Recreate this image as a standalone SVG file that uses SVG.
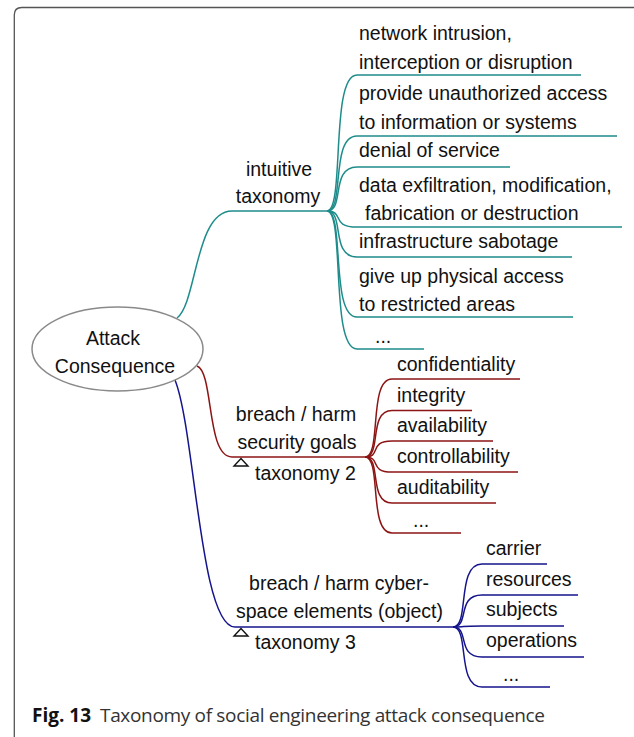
<svg xmlns="http://www.w3.org/2000/svg" width="634" height="737" viewBox="0 0 634 737">
<style>
  .t { font-family: "Liberation Sans", Arial, sans-serif; font-size: 19.5px; fill: #111; }
  .c { text-anchor: middle; }
  .teal { fill: none; stroke: #1f8c8c; stroke-width: 1.5; }
  .red { fill: none; stroke: #8c1414; stroke-width: 1.5; }
  .blue { fill: none; stroke: #14148c; stroke-width: 1.5; }
  .tri { fill: #fff; stroke: #111; stroke-width: 1.4; }
</style>
<rect width="634" height="737" fill="#fff"/>
<path d="M14.3,760 L14.3,15 Q14.3,7.5 21.8,7.5 L660,7.5" fill="none" stroke="#555" stroke-width="1.3"/>

<g id="connectors">
  <!-- root to level 1 -->
  <path class="teal" d="M177,318 C197,303 195,211 232,211 L327,211"/>
  <path class="red" d="M197,366 C214,372 206,457 232,457 L365,457"/>
  <path class="blue" d="M175,380 C195,430 200,627 235,627 L453,627"/>
  <!-- teal leaves -->
  <path class="teal" d="M327,211 C345,211 330,75 357,75 L581,75"/>
  <path class="teal" d="M327,211 C345,211 330,136 357,136 L617,136"/>
  <path class="teal" d="M327,211 C345,211 330,167 357,167 L510,167"/>
  <path class="teal" d="M327,211 C345,211 330,227 357,227 L622,227"/>
  <path class="teal" d="M327,211 C345,211 330,257 357,257 L572,257"/>
  <path class="teal" d="M327,211 C345,211 330,317 357,317 L573,317"/>
  <path class="teal" d="M327,211 C345,211 330,349 357,349 L424,349"/>
  <!-- red leaves -->
  <path class="red" d="M365,457 C382,457 368,379 392,379 L520,379"/>
  <path class="red" d="M365,457 C382,457 368,410.5 392,410.5 L472,410.5"/>
  <path class="red" d="M365,457 C382,457 368,441 392,441 L493,441"/>
  <path class="red" d="M365,457 C382,457 368,472 392,472 L518,472"/>
  <path class="red" d="M365,457 C382,457 368,503 392,503 L496,503"/>
  <path class="red" d="M365,457 C382,457 368,533 392,533 L461,533"/>
  <!-- blue leaves -->
  <path class="blue" d="M453,627 C470,627 456,564 482,564 L547,564"/>
  <path class="blue" d="M453,627 C470,627 456,595 482,595 L578,595"/>
  <path class="blue" d="M453,627 C470,627 456,626 482,626 L564,626"/>
  <path class="blue" d="M453,627 C470,627 456,657 482,657 L584,657"/>
  <path class="blue" d="M453,627 C470,627 456,687 482,687 L550,687"/>
</g>

<g id="root">
  <ellipse cx="117.5" cy="349" rx="85.5" ry="42" fill="#fff" stroke="#8a8a8a" stroke-width="1.5"/>
  <text class="t c" x="113" y="345">Attack</text>
  <text class="t c" x="115" y="373">Consequence</text>
</g>

<g id="intuitive-taxonomy">
  <text class="t c" x="279" y="176">intuitive</text>
  <text class="t c" x="278" y="203">taxonomy</text>
</g>
<g id="security-goals">
  <text class="t c" x="296" y="421">breach / harm</text>
  <text class="t c" x="297" y="449">security goals</text>
  <polygon class="tri" points="234,466 248,466 241,458.5"/>
  <text class="t" x="255" y="480">taxonomy 2</text>
</g>
<g id="cyberspace-elements">
  <text class="t c" x="339" y="590">breach / harm cyber-</text>
  <text class="t c" x="339.5" y="618">space elements (object)</text>
  <polygon class="tri" points="234,636 248,636 241,628.5"/>
  <text class="t" x="255" y="649">taxonomy 3</text>
</g>

<g id="leaf-network"><text class="t" x="359" y="40">network intrusion,</text><text class="t" x="359" y="69">interception or disruption</text></g>
<g id="leaf-access"><text class="t" x="359" y="100">provide unauthorized access</text><text class="t" x="359" y="129">to information or systems</text></g>
<g id="leaf-dos"><text class="t" x="359" y="157">denial of service</text></g>
<g id="leaf-data"><text class="t" x="359" y="192">data exfiltration, modification,</text><text class="t" x="365" y="220">fabrication or destruction</text></g>
<g id="leaf-infra"><text class="t" x="359" y="248">infrastructure sabotage</text></g>
<g id="leaf-physical"><text class="t" x="359" y="283">give up physical access</text><text class="t" x="359" y="311">to restricted areas</text></g>
<g id="leaf-teal-more"><text class="t" x="375" y="343">...</text></g>

<g id="leaf-confidentiality"><text class="t" x="397" y="371">confidentiality</text></g>
<g id="leaf-integrity"><text class="t" x="397" y="402">integrity</text></g>
<g id="leaf-availability"><text class="t" x="397" y="432">availability</text></g>
<g id="leaf-controllability"><text class="t" x="397" y="463">controllability</text></g>
<g id="leaf-auditability"><text class="t" x="397" y="494">auditability</text></g>
<g id="leaf-red-more"><text class="t" x="413" y="527">...</text></g>

<g id="leaf-carrier"><text class="t" x="486" y="555">carrier</text></g>
<g id="leaf-resources"><text class="t" x="486" y="586">resources</text></g>
<g id="leaf-subjects"><text class="t" x="486" y="616">subjects</text></g>
<g id="leaf-operations"><text class="t" x="486" y="647">operations</text></g>
<g id="leaf-blue-more"><text class="t" x="503" y="681">...</text></g>

<text x="32" y="722" font-family="'Open Sans', Lato, sans-serif" font-size="19"><tspan font-weight="bold" fill="#111">Fig. 13</tspan><tspan x="100" fill="#333" textLength="445" lengthAdjust="spacing">Taxonomy of social engineering attack consequence</tspan></text>
</svg>
